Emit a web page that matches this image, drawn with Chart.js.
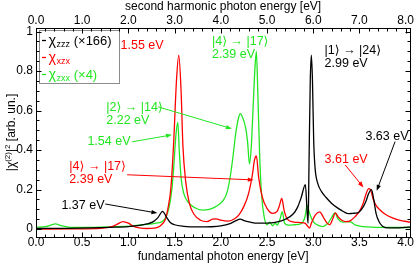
<!DOCTYPE html>
<html>
<head>
<meta charset="utf-8">
<script src="https://cdn.jsdelivr.net/npm/chart.js@4.4.0/dist/chart.umd.min.js"></script>
<style>
  html, body { margin: 0; padding: 0; background: #fff; }
  #wrap { width: 415px; height: 263px; }
</style>
</head>
<body>
<div id="wrap"><canvas id="chart" width="415" height="263"></canvas></div>
<script>
// chi_zzz (x166), black
const zzzE = [0.00, 0.30, 0.60, 0.80, 1.00, 1.10, 1.20, 1.27, 1.32, 1.37, 1.41, 1.45, 1.50, 1.60, 1.75, 1.90,
  2.00, 2.10, 2.16, 2.21, 2.26, 2.32, 2.40, 2.50, 2.60, 2.70, 2.78, 2.83, 2.87, 2.915, 2.935, 2.945,
  2.955, 2.968, 2.98, 2.992, 3.005, 3.02, 3.05, 3.09, 3.14, 3.20, 3.27, 3.33, 3.38, 3.43, 3.48, 3.53,
  3.57, 3.60, 3.63, 3.655, 3.68, 3.71, 3.75, 3.82, 3.90, 4.00, 4.05];
const zzzV = [0.003, 0.004, 0.006, 0.009, 0.013, 0.018, 0.026, 0.038, 0.058, 0.09, 0.062, 0.035, 0.022, 0.014, 0.011, 0.012,
  0.016, 0.028, 0.042, 0.05, 0.042, 0.035, 0.03, 0.03, 0.035, 0.05, 0.075, 0.11, 0.16, 0.225, 0.08, 0.03,
  0.35, 0.75, 0.88, 0.75, 0.45, 0.31, 0.23, 0.19, 0.16, 0.13, 0.105, 0.088, 0.078, 0.08, 0.082, 0.105,
  0.14, 0.18, 0.2, 0.15, 0.08, 0.04, 0.015, 0.006, 0.006, 0.009, 0.01];

// chi_xzx, red
const xzxE = [0.00, 0.40, 0.70, 0.82, 0.88, 0.94, 1.00, 1.05, 1.12, 1.20, 1.28, 1.34, 1.40, 1.43, 1.46, 1.49,
  1.52, 1.545, 1.57, 1.59, 1.62, 1.66, 1.71, 1.78, 1.85, 1.91, 1.95, 2.00, 2.08, 2.15, 2.20, 2.25,
  2.30, 2.34, 2.365, 2.385, 2.41, 2.45, 2.50, 2.56, 2.61, 2.635, 2.66, 2.685, 2.72, 2.78, 2.86, 2.91,
  2.94, 2.96, 2.98, 3.02, 3.07, 3.11, 3.15, 3.18, 3.21, 3.24, 3.27, 3.31, 3.35, 3.40, 3.45, 3.50,
  3.54, 3.57, 3.60, 3.62, 3.65, 3.68, 3.72, 3.78, 3.85, 3.93, 4.05];
const xzxV = [0.0, 0.001, 0.004, 0.012, 0.025, 0.038, 0.03, 0.015, 0.006, 0.003, 0.005, 0.015, 0.05, 0.11, 0.21, 0.44,
  0.75, 0.88, 0.7, 0.42, 0.24, 0.13, 0.075, 0.045, 0.038, 0.05, 0.052, 0.045, 0.04, 0.052, 0.075, 0.115,
  0.18, 0.27, 0.35, 0.37, 0.26, 0.16, 0.105, 0.08, 0.09, 0.12, 0.155, 0.095, 0.05, 0.037, 0.033, 0.03,
  0.015, 0.005, 0.03, 0.07, 0.087, 0.06, 0.03, 0.022, 0.05, 0.082, 0.062, 0.045, 0.038, 0.042, 0.062, 0.09,
  0.13, 0.175, 0.205, 0.2, 0.15, 0.12, 0.098, 0.075, 0.058, 0.046, 0.035];

// chi_zxx (x4), green
const zxxE = [0.00, 0.10, 0.16, 0.21, 0.27, 0.35, 0.50, 0.80, 1.00, 1.15, 1.30, 1.37, 1.41, 1.44, 1.47, 1.49,
  1.515, 1.535, 1.55, 1.57, 1.60, 1.65, 1.72, 1.80, 1.86, 1.93, 1.98, 2.03, 2.07, 2.10, 2.13, 2.16,
  2.19, 2.21, 2.24, 2.27, 2.29, 2.31, 2.33, 2.35, 2.37, 2.385, 2.40, 2.42, 2.44, 2.47, 2.50, 2.53,
  2.56, 2.59, 2.61, 2.64, 2.665, 2.69, 2.73, 2.80, 2.87, 2.91, 2.935, 2.96, 3.00, 3.05, 3.10, 3.16,
  3.20, 3.235, 3.27, 3.32, 3.37, 3.41, 3.46, 3.55, 3.70, 4.05];
const zxxV = [0.01, 0.012, 0.02, 0.026, 0.018, 0.01, 0.008, 0.011, 0.015, 0.022, 0.03, 0.04, 0.065, 0.11, 0.2, 0.31,
  0.48, 0.54, 0.4, 0.26, 0.18, 0.135, 0.108, 0.096, 0.098, 0.11, 0.125, 0.148, 0.19, 0.26, 0.36, 0.48,
  0.56, 0.585, 0.56, 0.51, 0.44, 0.33, 0.42, 0.62, 0.82, 0.9, 0.7, 0.38, 0.18, 0.06, 0.022, 0.035,
  0.017, 0.03, 0.02, 0.05, 0.088, 0.03, 0.02, 0.022, 0.028, 0.06, 0.12, 0.08, 0.038, 0.02, 0.013, 0.03,
  0.06, 0.082, 0.05, 0.035, 0.038, 0.035, 0.02, 0.012, 0.009, 0.008];

// axes
const xTicks = [0, 0.5, 1, 1.5, 2, 2.5, 3, 3.5, 4];
const shTicks = [0, 1, 2, 3, 4, 5, 6, 7, 8];
const yTicks = [0, 0.2, 0.4, 0.6, 0.8, 1];
const yTickLabels = ['0', '0.2', '0.4', '0.6', '0.8', '1'];

const BLACK = '#000000';
const RED = '#ff0000';
const GREEN = '#22e622';
const FONT = '"Liberation Sans", Arial, "DejaVu Sans", sans-serif';

// legend: chi + subscript + tail
const legendSubs = ['zzz', 'xzx', 'zxx'];
const legendTails = [' (×166)', '', ' (×4)'];
const legendColors = [BLACK, RED, GREEN];

// text notes in data coords (left edge, first line centre)
const notes = [
  { lines: ['1.55 eV'], color: RED, at: [0.915, 0.928] },
  { lines: ['|4⟩ → |17⟩', '2.39 eV'], color: GREEN, at: [1.904, 0.949] },
  { lines: ['|1⟩ → |24⟩', '2.99 eV'], color: BLACK, at: [3.123, 0.904] },
  { lines: ['|2⟩ → |14⟩', '2.22 eV'], color: GREEN, at: [0.761, 0.614] },
  { lines: ['1.54 eV'], color: GREEN, at: [0.556, 0.443] },
  { lines: ['|4⟩ → |17⟩', '2.39 eV'], color: RED, at: [0.361, 0.315] },
  { lines: ['1.37 eV'], color: BLACK, at: [0.275, 0.118] },
  { lines: ['3.61 eV'], color: RED, at: [3.123, 0.353] },
  { lines: ['3.63 eV'], color: BLACK, at: [3.565, 0.469] },
];
const arrows = [
  { color: GREEN, from: [1.321, 0.619], to: [2.12, 0.508] },
  { color: GREEN, from: [1.041, 0.442], to: [1.472, 0.477] },
  { color: RED, from: [0.987, 0.275], to: [2.357, 0.249] },
  { color: BLACK, from: [0.75, 0.127], to: [1.314, 0.081] },
  { color: RED, from: [3.346, 0.325], to: [3.544, 0.211] },
  { color: BLACK, from: [3.886, 0.443], to: [3.687, 0.194] },
];

function pts(xs, ys) {
  return xs.map((x, i) => ({ x: x, y: ys[i] }));
}

function range(step, max) {
  const out = [];
  for (let i = 0; i * step <= max + 1e-9; i++) out.push(+(i * step).toFixed(3));
  return out;
}

// inward ticks + frame
const frame = {
  id: 'frame',
  afterDraw(chart) {
    const { ctx, chartArea: a, scales } = chart;
    const L = Math.round(a.left) + 0.5, R = Math.round(a.right) + 0.5;
    const T = Math.round(a.top) + 0.5, B = Math.round(a.bottom) + 0.5;
    ctx.save();
    ctx.strokeStyle = '#000';
    ctx.lineWidth = 1;
    const seg = (x1, y1, x2, y2) => { ctx.beginPath(); ctx.moveTo(x1, y1); ctx.lineTo(x2, y2); ctx.stroke(); };
    range(0.1, 4).forEach((v) => {
      const p = Math.round(scales.x.getPixelForValue(v)) + 0.5;
      const len = xTicks.some((t) => Math.abs(t - v) < 1e-6) ? 5 : 3;
      seg(p, B, p, B - len);
    });
    range(0.2, 8).forEach((v) => {
      const p = Math.round(scales.x2.getPixelForValue(v)) + 0.5;
      const len = shTicks.some((t) => Math.abs(t - v) < 1e-6) ? 5 : 3;
      seg(p, T, p, T + len);
    });
    range(0.05, 1).forEach((v) => {
      const p = Math.round(scales.y.getPixelForValue(v)) + 0.5;
      const len = yTicks.some((t) => Math.abs(t - v) < 1e-6) ? 5 : 3;
      seg(L, p, L + len, p);
      seg(R, p, R - len, p);
    });
    ctx.strokeRect(L, T, R - L, B - T);
    ctx.restore();
  },
};

// labels, arrows, legend, y title
const extras = {
  id: 'extras',
  afterDatasetsDraw(chart) {
    const { ctx, chartArea: a, scales } = chart;
    const px = (d) => [scales.x.getPixelForValue(d[0]), scales.y.getPixelForValue(d[1])];
    ctx.save();
    ctx.textBaseline = 'middle';
    ctx.textAlign = 'left';
    ctx.font = '12.5px ' + FONT;
    notes.forEach((n) => {
      const [x, y] = px(n.at);
      ctx.fillStyle = n.color;
      n.lines.forEach((t, i) => ctx.fillText(t, x, y + i * 13));
    });
    arrows.forEach((ar) => {
      const [x1, y1] = px(ar.from);
      const [x2, y2] = px(ar.to);
      const ang = Math.atan2(y2 - y1, x2 - x1);
      ctx.strokeStyle = ar.color;
      ctx.fillStyle = ar.color;
      ctx.lineWidth = 1;
      ctx.beginPath(); ctx.moveTo(x1, y1);
      ctx.lineTo(x2 - 4 * Math.cos(ang), y2 - 4 * Math.sin(ang)); ctx.stroke();
      ctx.beginPath();
      ctx.moveTo(x2, y2);
      ctx.lineTo(x2 - 6 * Math.cos(ang) + 2.2 * Math.sin(ang), y2 - 6 * Math.sin(ang) - 2.2 * Math.cos(ang));
      ctx.lineTo(x2 - 6 * Math.cos(ang) - 2.2 * Math.sin(ang), y2 - 6 * Math.sin(ang) + 2.2 * Math.cos(ang));
      ctx.closePath(); ctx.fill();
    });

    // legend box
    const bx = Math.round(a.left) + 3.5, by = Math.round(a.top) + 2.5;
    ctx.fillStyle = '#fff';
    ctx.fillRect(bx, by, 80, 53);
    ctx.strokeStyle = '#8c8c8c';
    ctx.strokeRect(bx, by, 80, 53);
    ctx.textBaseline = 'alphabetic';
    legendSubs.forEach((sub, i) => {
      const base = by + 14 + i * 17;
      ctx.strokeStyle = legendColors[i];
      ctx.lineWidth = 1.3;
      ctx.beginPath(); ctx.moveTo(bx + 2.5, base - 4); ctx.lineTo(bx + 6.5, base - 4); ctx.stroke();
      ctx.fillStyle = legendColors[i];
      let x = bx + 9;
      ctx.font = '14.5px ' + FONT;
      ctx.fillText('χ', x, base);
      x += ctx.measureText('χ').width + 0.5;
      ctx.font = '9px ' + FONT;
      ctx.fillText(sub, x, base + 2);
      x += ctx.measureText(sub).width;
      ctx.font = '13px ' + FONT;
      ctx.fillText(legendTails[i], x, base);
    });

    // y axis title with superscripts
    const parts = [['|χ', 12, 0], ['(2)', 8, -5], ['|', 12, 0], ['2', 8, -5], [' [arb. un.]', 12, 0]];
    ctx.save();
    ctx.translate(11, (a.top + a.bottom) / 2);
    ctx.rotate(-Math.PI / 2);
    ctx.fillStyle = '#000';
    let total = 0;
    parts.forEach((p) => { ctx.font = p[1] + 'px ' + FONT; total += ctx.measureText(p[0]).width; });
    let x = -total / 2;
    parts.forEach((p) => {
      ctx.font = p[1] + 'px ' + FONT;
      ctx.fillText(p[0], x, 4 + p[2]);
      x += ctx.measureText(p[0]).width;
    });
    ctx.restore();
    ctx.restore();
  },
};

const lineStyle = (color) => ({
  borderColor: color,
  backgroundColor: color,
  borderWidth: 1.3,
  pointRadius: 0,
  fill: false,
  cubicInterpolationMode: 'monotone',
});

new Chart(document.getElementById('chart'), {
  type: 'line',
  data: {
    datasets: [
      { label: 'zzz', data: pts(zzzE, zzzV), ...lineStyle(BLACK) },
      { label: 'xzx', data: pts(xzxE, xzxV), ...lineStyle(RED) },
      { label: 'zxx', data: pts(zxxE, zxxV), ...lineStyle(GREEN) },
    ],
  },
  options: {
    responsive: false,
    animation: false,
    devicePixelRatio: 1,
    layout: { padding: { left: 0, right: 3, top: 0, bottom: 0 } },
    plugins: { legend: { display: false }, tooltip: { enabled: false } },
    scales: {
      x: {
        type: 'linear',
        position: 'bottom',
        min: 0,
        max: 4.05,
        afterBuildTicks: (s) => { s.ticks = xTicks.map((v) => ({ value: v })); },
        afterFit: (s) => { s.height = 26; },
        grid: { display: false, drawTicks: false, tickLength: 0 },
        border: { display: false },
        ticks: {
          color: '#000', padding: 0, maxRotation: 0, autoSkip: false,
          font: { family: FONT, size: 12, lineHeight: 1 },
          callback: (v) => Number(v).toFixed(1),
        },
        title: {
          display: true, text: 'fundamental photon energy [eV]', color: '#000',
          padding: { top: 0, bottom: 0 }, font: { family: FONT, size: 12, lineHeight: 1.1 },
        },
      },
      x2: {
        type: 'linear',
        position: 'top',
        min: 0,
        max: 8.1,
        afterBuildTicks: (s) => { s.ticks = shTicks.map((v) => ({ value: v })); },
        afterFit: (s) => { s.height = 28; },
        grid: { display: false, drawTicks: false, tickLength: 0 },
        border: { display: false },
        ticks: {
          color: '#000', padding: 1, maxRotation: 0, autoSkip: false,
          font: { family: FONT, size: 12, lineHeight: 1 },
          callback: (v) => Number(v).toFixed(1),
        },
        title: {
          display: true, text: 'second harmonic photon energy [eV]', color: '#000',
          padding: { top: 0, bottom: 0 }, font: { family: FONT, size: 12, lineHeight: 1.1 },
        },
      },
      y: {
        type: 'linear',
        position: 'left',
        min: -0.04,
        max: 1.018,
        afterBuildTicks: (s) => { s.ticks = yTicks.map((v) => ({ value: v })); },
        afterFit: (s) => { s.width = 36; },
        grid: { display: false, drawTicks: false, tickLength: 0 },
        border: { display: false },
        ticks: {
          color: '#000', padding: 3, autoSkip: false,
          font: { family: FONT, size: 12, lineHeight: 1 },
          callback: (v) => yTickLabels[yTicks.findIndex((t) => Math.abs(t - v) < 1e-6)],
        },
      },
    },
  },
  plugins: [frame, extras],
});
</script>
</body>
</html>
